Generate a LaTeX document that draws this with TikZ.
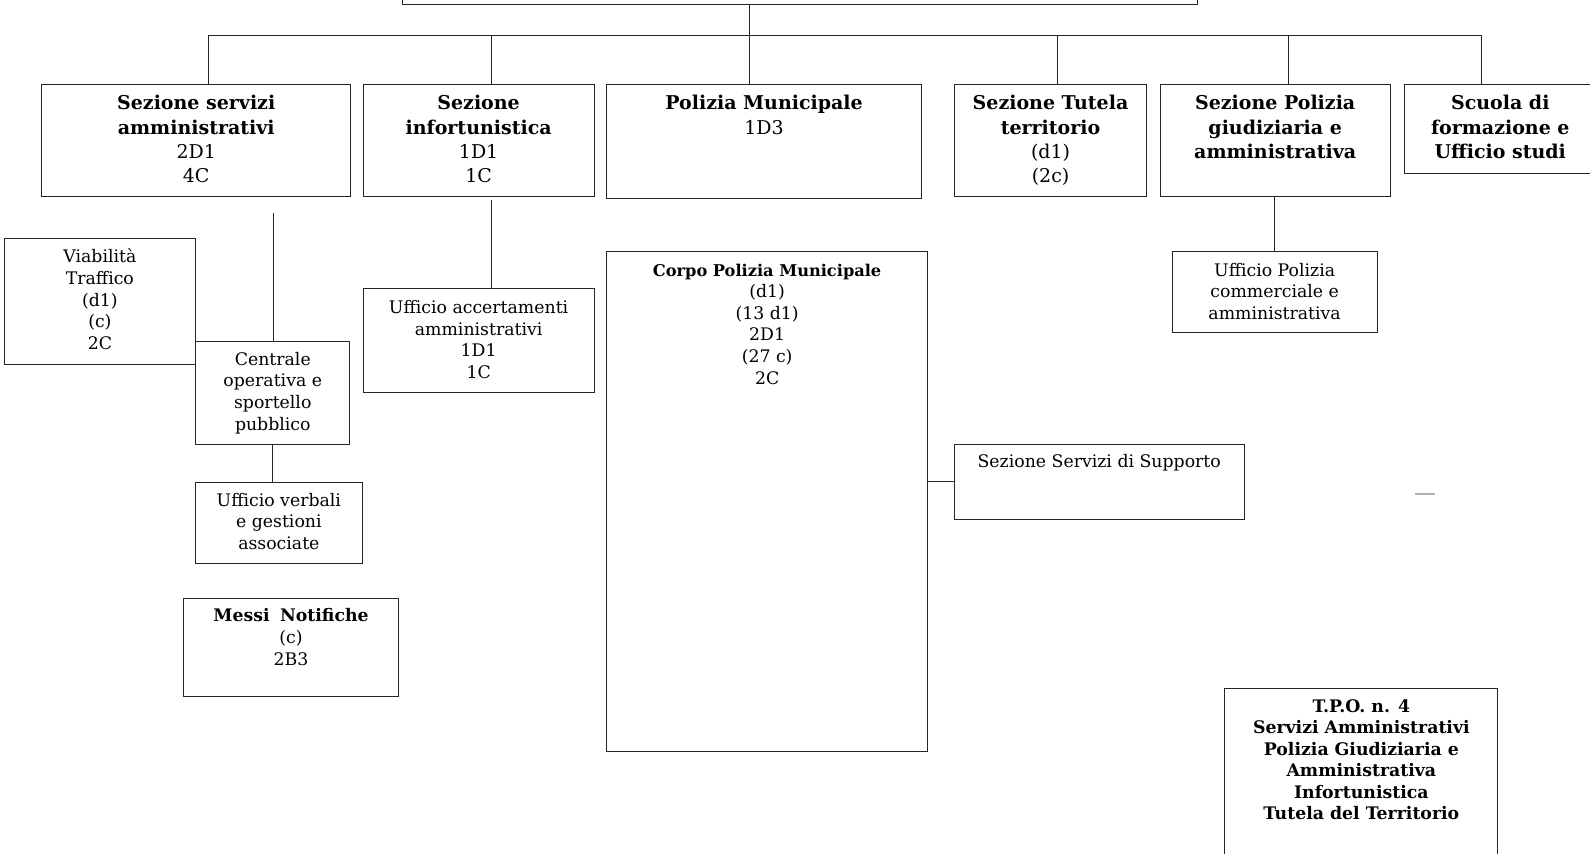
\documentclass[tikz,border=0pt]{standalone}
\usepackage{fontspec}
\setmainfont{DejaVu Serif}
\tikzset{
  frame/.style={draw=black!85, line width=1pt, inner sep=0pt, outer sep=0pt},
  link/.style={draw=black!85, line width=1pt},
  big/.style={font=\fontsize{19}{24.3}\selectfont, align=center, inner sep=0pt, yshift=17pt},
  small/.style={font=\fontsize{17.3}{21.6}\selectfont, align=center, inner sep=0pt, yshift=15.1pt},
  smallb/.style={font=\bfseries\fontsize{17.3}{21.5}\selectfont, align=center, inner sep=0pt, yshift=15.05pt},
}
% name, x1, y1, x2, y2, text style, text x, first baseline y, text
\newcommand\obox[9]{%
  \node[frame, anchor=north west, minimum width={(#4-#2)*1.014pt}, minimum height={(#5-#3)*1.014pt}] (#1) at (#2,-#3) {};
  \node[#6, anchor=north] (#1-t) at (#7,-#8) {\strut #9};}
\begin{document}
\begin{tikzpicture}[x=1.014pt,y=1.014pt]
\useasboundingbox (0,0) rectangle (1568,-842);
\clip (0,0) rectangle (1568,-842);
\fill[white] (0,0) rectangle (1568,-842);

% top (cut) box
\node[frame, anchor=south west, minimum width={784*1.014pt}, minimum height=60pt] (top) at (397,-4) {};
\coordinate (stem) at ([xshift=-50.7]top.south);
\coordinate (bus) at (0,-35);

% first row
\obox{b1}{41}{83}{346}{194}{big}{193.5}{108}{\textbf{Sezione servizi}\\\textbf{amministrativi}\\2D1\\4C}
\obox{b2}{358}{83}{586}{194}{big}{472}{108}{\textbf{Sezione}\\\textbf{infortunistica}\\1D1\\1C}
\obox{b3}{598}{83}{909}{196}{big}{753.5}{108}{\textbf{Polizia Municipale}\\1D3}
\obox{b4}{941}{83}{1131}{194}{big}{1036}{108}{\textbf{Sezione Tutela}\\\textbf{territorio}\\(d1)\\(2c)}
\obox{b5}{1144}{83}{1371}{194}{big}{1257.5}{108}{\textbf{Sezione Polizia}\\\textbf{giudiziaria e}\\\textbf{amministrativa}}
\obox{b6}{1385}{83}{1600}{171}{big}{1479.5}{108}{\textbf{Scuola di}\\\textbf{formazione e}\\\textbf{Ufficio studi}}

% lower boxes
\obox{via}{4}{235}{193}{359}{small}{98.5}{259}{Viabilità\\Traffico\\(d1)\\(c)\\2C}
\obox{cen}{193}{337}{345}{438}{small}{269}{360}{Centrale\\operativa e\\sportello\\pubblico}
\obox{uv}{193}{476}{357}{556}{small}{275}{499}{Ufficio verbali\\e gestioni\\associate}
\obox{messi}{181}{590}{393}{687}{small}{287}{613}{\textbf{Messi\hspace{0.6em}Notifiche}\\(c)\\2B3}
\obox{uacc}{358}{285}{586}{387}{small}{472}{309}{Ufficio accertamenti\\amministrativi\\1D1\\1C}
\obox{corpo}{598}{248}{915}{741}{small}{756.5}{272}{\textbf{\fontsize{16.2}{21.6}\selectfont Corpo Polizia Municipale}\\(d1)\\(13 d1)\\2D1\\(27 c)\\2C}
\obox{sup}{941}{438}{1227}{512}{small}{1084}{461}{Sezione Servizi di Supporto}
\obox{upc}{1156}{248}{1358}{328}{small}{1257}{272}{Ufficio Polizia\\commerciale e\\amministrativa}
\obox{tpo}{1208}{679}{1477}{870}{smallb}{1342.5}{702}{T.P.O. n. 4\\Servizi Amministrativi\\Polizia Giudiziaria e\\Amministrativa\\Infortunistica\\Tutela del Territorio}

% connectors
\draw[link] ([xshift=12.7]b1.north) -- ([xshift=12.7]b1.north |- bus) -- ([xshift=-32]b6.north |- bus) -- ([xshift=-32]b6.north);
\draw[link] (stem) -- (stem |- b3.north);
\draw[link] ([xshift=13.2]b2.north) -- ([xshift=13.2]b2.north |- bus);
\draw[link] ([xshift=7.1]b4.north) -- ([xshift=7.1]b4.north |- bus);
\draw[link] ([xshift=13.7]b5.north) -- ([xshift=13.7]b5.north |- bus);
\coordinate (c1) at (270,-210);
\draw[link] (c1) -- (c1 |- cen.north);
\draw[link] (cen.south) -- (cen.south |- uv.north);
\coordinate (c2) at ([xshift=13.2,yshift=-3]b2.south);
\draw[link] (c2) -- (c2 |- uacc.north);
\draw[link] (upc.north) -- (upc.north |- b5.south);
\draw[link] (sup.west) -- (sup.west -| corpo.east);

% small stray dash
\draw[gray!60, line width=1.5] (1395,-487) -- (1415,-487);
\end{tikzpicture}
\end{document}
